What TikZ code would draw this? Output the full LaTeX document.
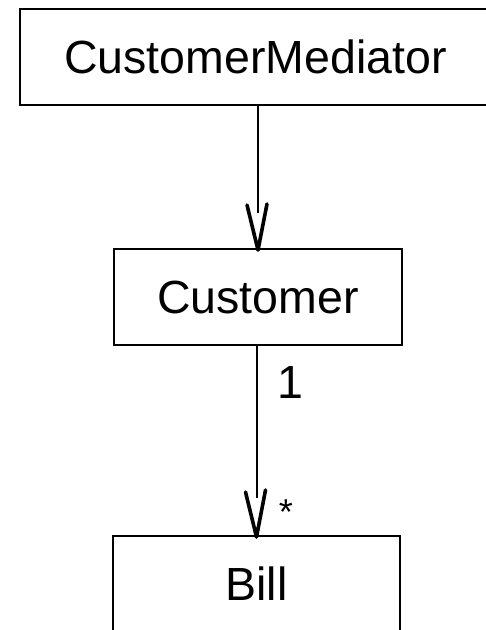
\documentclass[tikz,border=0pt]{standalone}
\usepackage{fontspec}
\setmainfont{Liberation Sans}
\begin{document}
\begin{tikzpicture}[x=1pt,y=-1pt,
  classbox/.style={draw=black, line width=2pt, inner sep=0pt, outer sep=0pt,
    minimum height=96pt, font=\fontsize{46.5}{50}\selectfont},
  assoc/.style={draw=black, line width=2pt},
  vtip/.style={draw=black, line width=3.6pt, line join=round, line cap=round},
  mult/.style={inner sep=0pt, anchor=base}]
  \useasboundingbox (0,0) rectangle (486,630);
  \clip (0,0) rectangle (486,630);
  \fill[white] (0,0) rectangle (486,630);

  % classes
  \node[classbox, minimum width=471pt] (cm) at (255.5,57) {CustomerMediator};
  \node[classbox, minimum width=288pt] (c) at (258,297) {Customer};
  \node[classbox, minimum width=287pt] (b) at (256.5,584) {Bill};

  % CustomerMediator -> Customer
  \coordinate (mc) at (c.north |- cm.south);
  \draw[assoc, shorten >=36pt] (mc) -- (c.north);
  \draw[vtip] ([shift={(-11,-44)}]c.north) -- ([yshift=-1]c.north) -- ([shift={(9,-45)}]c.north);

  % Customer -> Bill
  \coordinate (cb) at (b.north |- c.south);
  \draw[assoc, shorten >=38pt] (cb) -- (b.north);
  \draw[vtip] ([shift={(-11,-44)}]b.north) -- ([yshift=-1]b.north) -- ([shift={(9,-46)}]b.north);

  % multiplicities
  \node[mult, font=\fontsize{46.5}{50}\selectfont] (m1) at (290,398) {1};
  \node[mult, font=\fontsize{36}{40}\selectfont] (m2) at (286,524) {*};
\end{tikzpicture}
\end{document}
